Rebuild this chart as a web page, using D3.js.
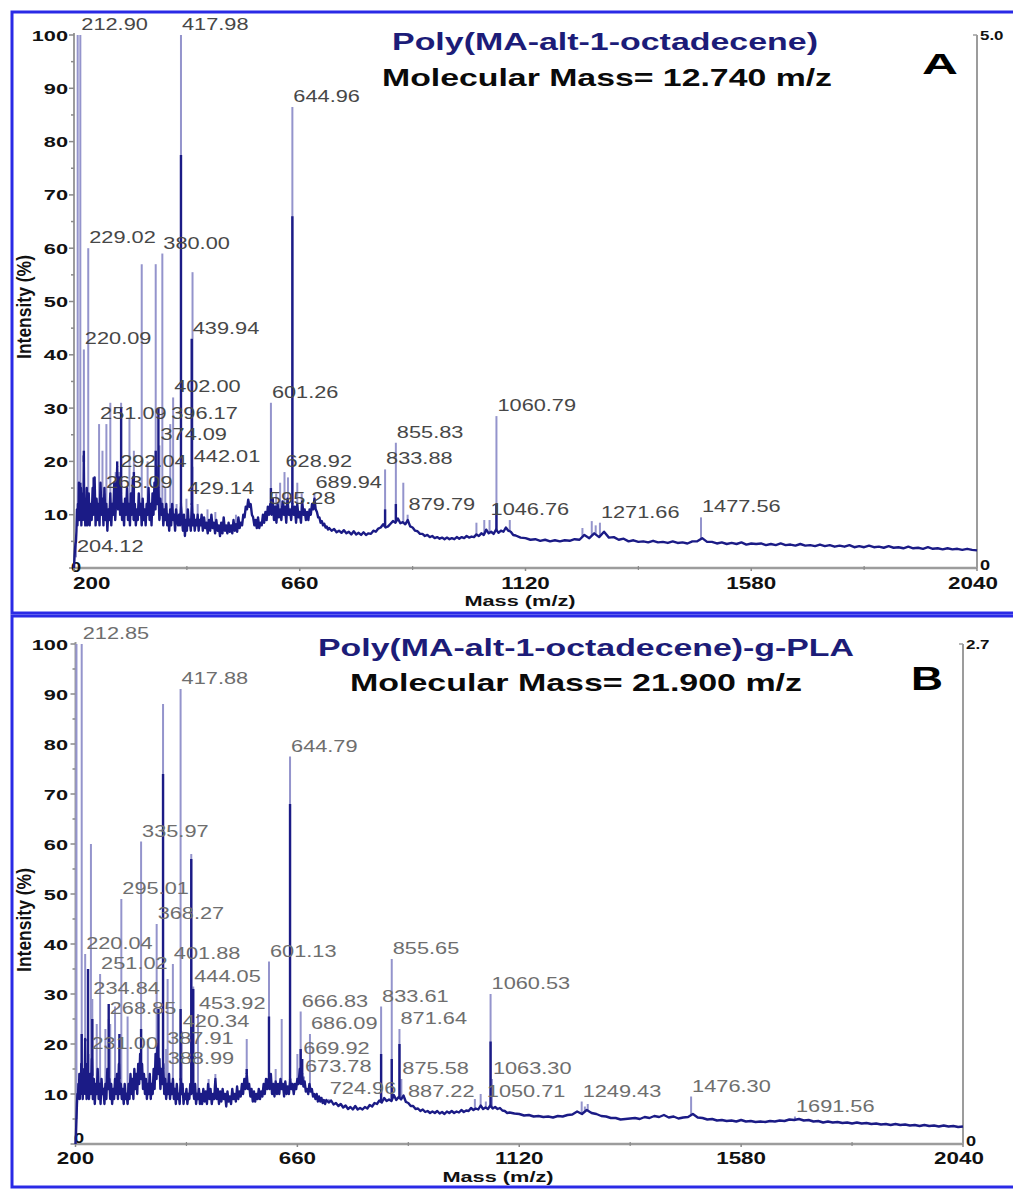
<!DOCTYPE html>
<html><head><meta charset="utf-8">
<script src="https://cdn.jsdelivr.net/npm/d3@7"></script>
<style>
html,body{margin:0;padding:0;background:#fff;}
svg{display:block;font-family:"Liberation Sans",Arial,Helvetica,sans-serif;}
</style></head><body>
<svg id="chart" width="1013" height="1189"></svg>
<script>
// ---------- data ----------
const panelLetters = ["A", "B"];
const titles = ["Poly(MA-alt-1-octadecene)", "Poly(MA-alt-1-octadecene)-g-PLA"];
const massTexts = ["Molecular Mass= 12.740 m/z", "Molecular Mass= 21.900 m/z"];
const rightMaxLabels = ["5.0", "2.7"];
const xTicks = [200, 660, 1120, 1580, 2040];
const xMinorTicks = [430, 890, 1350, 1810];
const yTicks = [0, 10, 20, 30, 40, 50, 60, 70, 80, 90, 100];
const xTitle = "Mass (m/z)";
const yTitle = "Intensity (%)";

// labelled peaks: [m/z, intensity %]
const labelledA = [
  [204.12, 2], [212.90, 100], [220.09, 41], [229.02, 60], [251.09, 27],
  [263.09, 14], [292.04, 18], [374.09, 23], [380.00, 59], [396.17, 27],
  [402.00, 32], [417.98, 100], [429.14, 13], [439.94, 43], [442.01, 19],
  [595.28, 11], [601.26, 31], [628.92, 18], [644.96, 86.5], [689.94, 14],
  [833.88, 18.5], [855.83, 23.5], [879.79, 10], [1046.76, 9], [1060.79, 28.5],
  [1271.66, 8.5], [1477.56, 9.5]
];
// unlabelled peak tips
const lightA = [
  [207.5, 100], [258, 22], [266, 27], [274, 31], [285, 18], [296, 31], [313, 28],
  [322, 22], [338, 57], [350, 20], [366.5, 57], [386, 15], [409, 12],
  [441.5, 55.5], [452, 12], [472, 11], [488, 10.5], [530, 10], [556, 12.5],
  [612, 14], [620, 16], [636, 17], [655, 16], [664, 14], [871, 16],
  [1020, 8.5], [1036, 9], [1088, 9], [1236, 7.5], [1255, 8.8], [1263, 8]
];
// dense cores of the strongest lines
const darkA = [
  [212.90, 16], [220.09, 22], [240, 17], [262, 15], [288, 20], [296, 30],
  [322, 18], [366.5, 22], [372, 30], [417.98, 77.5], [439.94, 43],
  [601.26, 15], [644.96, 66], [833.88, 11], [855.83, 12], [1060.79, 12]
];
const traceA = [
  [200,0],[201,2],[202,3.5],[203,4.5],[204,5],[205,7],[206,11],[207,8],[208,12],[209,9],
  [210,16],[211,9],[212,13],[213,10],[214,15],[215,8],[216,12],[217,9],[218,14],[219,10],
  [220,21],[221,9],[222,12],[223,8],[224,13],[225,10],[226,15],[227,8],[228,11],
  [230,14],[232,8],[234,12],[236,9],[238,15],[240,10],[242,17],[244,8],[246,13],[248,9],
  [250,12],[252,8],[254,16],[256,10],[258,13],[260,8],[262,15],[264,9],[266,12],[268,7],
  [270,11],[272,9],[274,14],[276,8],[278,12],[280,10],[282,16],[284,9],[286,13],[288,19],
  [290,11],[292,17],[294,10],[296,14],[298,9],[300,12],[302,8],[304,13],[306,10],[308,15],
  [310,9],[312,12],[314,8],[316,14],[318,10],[320,17],[322,9],[324,12],[326,8],[328,11],
  [330,9],[332,14],[334,10],[336,12],[338,8],[340,13],[342,9],[344,11],[346,8],[348,12],
  [350,10],[352,15],[354,9],[356,12],[358,8],[360,14],[362,10],[364,16],[366,11],[368,19],
  [370,12],[372,15],[374,9],[376,13],[378,10],[380,12],[382,8],[384,11],[386,9],[388,12],
  [390,8],[392,10],[394,7],[396,11],[398,8],[400,12],[402,9],[404,10],[406,7],[408,11],
  [410,9],[412,8],[414,10],[416,8],[418,12],[420,9],[422,7],[424,10],[426,6],[428,9],
  [430,7],[432,11],[434,8],[436,9],[438,7],[440,12],[442,8],[444,10],[446,7],[448,9],
  [450,8],[452,10],[454,7],[456,9],[458,8],[460,10],
  [462.5,7],[465,9.5],[467.5,7.5],[470,8.5],[472.5,6.5],[475,9],[477.5,7],[480,10],[482.5,7.5],[485,8.5],
  [487.5,6.5],[490,9],[492.5,7],[495,8],[497.5,6],[500,8.5],[502.5,6.5],[505,9.5],[507.5,7],[510,8],
  [512.5,6.5],[515,8.5],[517.5,6.8],[520,8],[522.5,6.5],[525,9],[527.5,7],[530,8.2],[532.5,6.8],[535,9.5],
  [537.5,7.5],[540,8.5],[542.5,8],[545,10],[547.5,9.5],[550,11.5],[552.5,11],[555,12.8],[557.5,11.5],[560,12],
  [562.5,10],[565,9.5],[567.5,8],[570,9],[572.5,7.5],[575,9.5],[577.5,7.5],[580,8.5],[582.5,8],[585,10],
  [587.5,8.5],[590,10.5],[592.5,9],[595,11.5],[597.5,10],[600,12],[602.5,10],[605,13],[607.5,9],[610,11.5],
  [612.5,8.5],[615,12],[617.5,9.5],[620,11],[622.5,9],[625,12.5],[627.5,10],[630,11.5],[632.5,8.5],[635,13],
  [637.5,10],[640,11],[642.5,9],[645,12],[647.5,10],[650,11.5],[652.5,8.5],[655,12],[657.5,9.5],[660,10.5],
  [662.5,8.5],[665,12.5],[667.5,10],[670,11],[672.5,9],[675,10.5],[677.5,9],[680,11],[682.5,10],[685,12],
  [687.5,11],[690,13],[692.5,11],[695,10.5],[697.5,9.5],[700,9.5],[702.5,8.5],[705,8.8],[707.5,8],[710,8.3],
  [712.5,7.6],[715,7.8],[717.5,7.2],[720,7.5],
  [725,7],[730,7.3],[735,6.7],[740,7],[745,6.6],[750,7.1],[755,6.5],[760,6.8],[765,6.3],[770,6.9],
  [775,6.3],[780,6.6],[785,6.2],[790,6.7],[795,6.2],[800,6.5],[805,6.4],[810,7],[815,6.8],[820,7.4],
  [825,7.6],[830,8.2],[835,7.6],[840,7.8],[845,8.3],[850,8.8],[855,8.5],[860,9.3],[865,8.4],[870,8.6],
  [875,8.2],[880,9],[885,7.8],[890,7.6],[895,7],[900,6.9],[905,6.4],[910,6.4],[915,6],[920,6.2],
  [925,5.8],[930,6],[935,5.6],[940,5.8],[945,5.5],[950,5.7],[955,5.4],[960,5.7],[965,5.4],[970,5.6],
  [975,5.4],[980,5.8],[985,5.5],[990,5.8],[995,5.6],[1000,6],[1005,5.7],[1010,5.9],[1015,5.8],[1020,6.3],
  [1025,6],[1030,6.5],[1035,6.2],[1040,7.2],[1045,6.5],[1050,6.8],[1055,6.4],[1060,7.2],[1065,6.6],[1070,7],
  [1075,6.8],[1080,7.6],[1085,7],[1090,6.8],[1095,6.2],[1100,6.1],
  [1110,5.7],[1120,5.6],[1130,5.3],[1140,5.4],[1150,5.1],[1160,5.3],[1170,5.0],[1180,5.2],
  [1190,5.0],[1200,5.2],[1210,5.1],[1220,5.4],[1230,5.3],[1240,6.2],[1250,5.6],[1260,6.5],
  [1270,5.8],[1280,6.8],[1290,5.7],[1300,5.8],[1310,5.3],[1320,5.5],[1330,5.0],[1340,5.2],
  [1350,4.9],[1360,5.0],[1370,4.8],[1380,5.1],[1390,4.8],[1400,4.9],[1410,4.7],[1420,5.0],
  [1430,4.7],[1440,4.8],[1450,4.6],[1460,5.0],[1470,5.0],[1480,5.6],[1490,4.9],[1500,4.9],
  [1510,4.6],[1520,4.8],[1530,4.5],[1540,4.7],[1550,4.5],[1560,4.8],[1570,4.4],[1580,4.6],
  [1590,4.5],[1600,4.6],[1610,4.3],[1620,4.5],[1630,4.3],[1640,4.6],[1650,4.3],[1660,4.4],
  [1670,4.2],[1680,4.5],[1690,4.2],[1700,4.3],[1710,4.1],[1720,4.4],[1730,4.1],[1740,4.3],
  [1750,4.0],[1760,4.2],[1770,4.0],[1780,4.3],[1790,3.9],[1800,4.1],[1810,3.9],[1820,4.2],
  [1830,3.9],[1840,4.0],[1850,3.8],[1860,4.1],[1870,3.8],[1880,3.9],[1890,3.7],[1900,4.0],
  [1910,3.7],[1920,3.8],[1930,3.6],[1940,3.9],[1950,3.6],[1960,3.7],[1970,3.5],[1980,3.7],
  [1990,3.5],[2000,3.6],[2010,3.4],[2020,3.6],[2030,3.4],[2040,3.3]
];

const labelledB = [
  [212.85, 100], [220.04, 38], [231.00, 18], [234.84, 29], [251.02, 34],
  [268.85, 25], [295.01, 49], [335.97, 60.5], [368.27, 44], [387.91, 19],
  [388.99, 15], [401.88, 36], [417.88, 91], [420.34, 22.5], [444.05, 31.5],
  [453.92, 26], [601.13, 36.5], [644.79, 77.5], [666.83, 26.5], [669.92, 17],
  [673.78, 13.5], [686.09, 22], [724.96, 9], [833.61, 27.5], [855.65, 37],
  [871.64, 23], [875.58, 13], [887.22, 8.5], [1050.71, 8.5], [1060.53, 30],
  [1063.30, 13], [1249.43, 8.5], [1476.30, 9.5], [1691.56, 5.5]
];
const lightB = [
  [202, 100], [232, 60], [244, 24], [262, 23], [272, 24], [282, 27.5], [308, 25.5],
  [350, 21], [381.5, 88], [391, 33], [440, 58], [476, 13], [490, 14], [555, 21],
  [627.5, 25], [615, 15], [660, 18], [1040, 10], [1028, 9], [1262, 8], [1256, 7.5]
];
const darkB = [
  [212.85, 22], [220.04, 21], [226, 35], [234.84, 25], [268.85, 28], [291, 22],
  [335.97, 23], [372, 27], [381.5, 74], [417.88, 27], [440, 57], [444.05, 31],
  [555, 15], [601.13, 25.5], [644.79, 68], [666.83, 19], [669.92, 17],
  [833.61, 18], [855.65, 17], [871.64, 20], [1060.53, 20.5]
];
const traceB = [
  [200,0],[201,2],[202,5],[203,8],[204,10],[205,9],[206,12],[207,10],[208,14],[209,9],
  [210,13],[211,10],[212,16],[213,11],[214,14],[215,9],[216,13],[217,10],[218,15],[219,11],
  [220,21],[221,10],[222,14],[223,9],[224,12],[225,16],[226,11],[227,13],[228,9],
  [230,14],[232,10],[234,17],[236,9],[238,13],[240,8],[242,12],[244,10],[246,15],[248,9],
  [250,12],[252,8],[254,13],[256,10],[258,11],[260,8],[262,12],[264,9],[266,15],[268,11],
  [270,13],[272,9],[274,12],[276,8],[278,11],[280,9],[282,13],[284,10],[286,14],[288,9],
  [290,16],[292,10],[294,12],[296,9],[298,11],[300,8],[302,12],[304,9],[306,10],[308,8],
  [310,12],[312,9],[314,14],[316,10],[318,13],[320,9],[322,15],[324,11],[326,14],[328,10],
  [330,16],[332,12],[334,18],[336,13],[338,16],[340,11],[342,14],[344,10],[346,13],[348,9],
  [350,12],[352,10],[354,14],[356,9],[358,12],[360,10],[362,15],[364,11],[366,18],[368,13],
  [370,20],[372,14],[374,17],[376,11],[378,15],[380,12],[382,16],[384,10],[386,13],[388,9],
  [390,12],[392,10],[394,14],[396,9],[398,12],[400,10],[402,13],[404,9],[406,11],[408,8],
  [410,12],[412,9],[414,10],[416,8],[418,13],[420,10],[422,12],[424,8],[426,10],[428,9],
  [430,11],[432,8],[434,10],[436,9],[438,12],[440,10],[442,14],[444,11],[446,9],[448,12],
  [450,8],[452,10],[454,9],[456,11],[458,8],[460,10],
  [462.5,8],[465,11],[467.5,8.5],[470,10.5],[472.5,8],[475,12],[477.5,9],[480,11],[482.5,8],[485,10],
  [487.5,9],[490,13],[492.5,9],[495,11],[497.5,8],[500,10.5],[502.5,8.5],[505,11],[507.5,9],[510,10],
  [512.5,7.5],[515,10.5],[517.5,8.5],[520,9.5],[522.5,8],[525,11],[527.5,9],[530,10],[532.5,8.5],[535,11.5],
  [537.5,9],[540,10.5],[542.5,9.5],[545,12],[547.5,10],[550,13],[552.5,11],[555,14],[557.5,11],[560,12],
  [562.5,9.5],[565,11],[567.5,8.5],[570,10.5],[572.5,8.5],[575,10],[577.5,9],[580,11],[582.5,9],[585,10.5],
  [587.5,9.5],[590,12],[592.5,10],[595,13],[597.5,11],[600,13],[602.5,11],[605,14],[607.5,10],[610,12],
  [612.5,9.5],[615,12.5],[617.5,10],[620,12],[622.5,10],[625,13],[627.5,11],[630,12],[632.5,9.5],[635,12.5],
  [637.5,10],[640,11.5],[642.5,10],[645,13],[647.5,11],[650,12],[652.5,10],[655,12],[657.5,11],[660,13],
  [662.5,12],[665,15],[667.5,12],[670,14],[672.5,11.5],[675,12.5],[677.5,10.5],[680,11],[682.5,10],[685,12],
  [687.5,10.5],[690,11],[692.5,9.5],[695,10],[697.5,9],[700,10],[702.5,8.5],[705,9.5],[707.5,8.5],[710,9.2],
  [712.5,8.2],[715,8.8],[717.5,8],[720,8.8],
  [725,8.3],[730,8.7],[735,7.9],[740,8.2],[745,7.6],[750,8],[755,7.3],[760,7.7],[765,7],[770,7.4],
  [775,6.9],[780,7.6],[785,6.9],[790,7.2],[795,6.9],[800,7.4],[805,7.1],[810,7.8],[815,7.5],[820,8.2],
  [825,8],[830,8.7],[835,8.3],[840,9.2],[845,8.6],[850,8.9],[855,8.6],[860,9.8],[865,8.8],[870,9.4],
  [875,8.9],[880,9.7],[885,8.4],[890,8.2],[895,7.6],[900,7.6],[905,7],[910,7.1],[915,6.6],[920,6.9],
  [925,6.4],[930,6.6],[935,6.2],[940,6.5],[945,6.2],[950,6.6],[955,6.1],[960,6.4],[965,6],[970,6.5],
  [975,6.2],[980,6.6],[985,6.2],[990,6.5],[995,6.3],[1000,6.8],[1005,6.4],[1010,6.7],[1015,6.6],[1020,7.2],
  [1025,6.8],[1030,7.1],[1035,6.9],[1040,7.7],[1045,7],[1050,7.3],[1055,7],[1060,7.7],[1065,7.1],[1070,7.4],
  [1075,7],[1080,7.2],[1085,6.7],[1090,6.6],[1095,6.2],[1100,6.3],
  [1110,6.1],[1120,6.0],[1130,5.7],[1140,5.8],[1150,5.5],[1160,5.6],[1170,5.4],[1180,5.5],
  [1190,5.3],[1200,5.6],[1210,5.5],[1220,5.8],[1230,5.9],[1240,6.5],[1250,6.0],[1260,6.8],
  [1270,6.2],[1280,6.0],[1290,5.6],[1300,5.5],[1310,5.2],[1320,5.2],[1330,4.9],[1340,5.0],
  [1350,5.1],[1360,5.2],[1370,5.0],[1380,5.4],[1390,5.2],[1400,5.6],[1410,5.4],[1420,5.8],
  [1430,5.3],[1440,5.5],[1450,5.1],[1460,5.3],[1470,5.4],[1480,6.0],[1490,5.3],[1500,5.2],
  [1510,4.9],[1520,5.0],[1530,4.7],[1540,4.8],[1550,4.6],[1560,4.7],[1570,4.5],[1580,4.8],
  [1590,4.5],[1600,4.6],[1610,4.4],[1620,4.5],[1630,4.4],[1640,4.6],[1650,4.5],[1660,4.7],
  [1670,4.6],[1680,4.9],[1690,4.8],[1700,5.0],[1710,4.7],[1720,4.8],[1730,4.5],[1740,4.6],
  [1750,4.3],[1760,4.5],[1770,4.3],[1780,4.4],[1790,4.2],[1800,4.3],[1810,4.1],[1820,4.3],
  [1830,4.1],[1840,4.2],[1850,4.0],[1860,4.1],[1870,3.9],[1880,4.0],[1890,3.8],[1900,4.0],
  [1910,3.8],[1920,3.9],[1930,3.7],[1940,3.8],[1950,3.6],[1960,3.8],[1970,3.6],[1980,3.7],
  [1990,3.5],[2000,3.7],[2010,3.5],[2020,3.6],[2030,3.4],[2040,3.5]
];

// ---------- layout ----------
const panels = [
  { i: 0, trace: traceA, light: lightA, dark: darkA, labels: labelledA,
    px: [74, 977], py: [568, 35], frameTop: 12, frameBottom: 613,
    title: { x: 605, y: 50, w: 426, size: 24 }, mass: { x: 607, y: 86, w: 450, size: 24 },
    letter: { x: 940, y: 74, w: 36, size: 29 },
    xLab: { y: 589, first: "start" }, xTitleY: 606, xTitleX: 520, yTitleY: 307,
    labelFill: "#474747", zeroLabel: { x: 76, y: 572 } },
  { i: 1, trace: traceB, light: lightB, dark: darkB, labels: labelledB,
    px: [75.5, 963], py: [1144, 644], frameTop: 616, frameBottom: 1187,
    title: { x: 586, y: 656, w: 536, size: 24 }, mass: { x: 576, y: 691, w: 452, size: 24 },
    letter: { x: 927, y: 690, w: 32, size: 33 },
    xLab: { y: 1164, first: "middle" }, xTitleY: 1182, xTitleX: 498, yTitleY: 920,
    labelFill: "#6e6e6e", zeroLabel: { x: 79, y: 1143 } }
];

const svg = d3.select("#chart");
svg.append("rect").attr("width", 1013).attr("height", 1189).attr("fill", "#fff");

const NAVY = "#1b1b86", LIGHT = "#9494cc", AXIS = "#9c9c9c";

function sText(g, x, y, str, o) {
  const t = g.append("text")
    .attr("transform", `translate(${x},${y}) scale(${o.sx || 1},1)`)
    .attr("text-anchor", o.anchor || "start")
    .attr("font-size", o.size)
    .attr("font-weight", o.weight || "normal")
    .attr("fill", o.fill || "#000")
    .text(str);
  if (o.w) t.attr("textLength", o.w / (o.sx || 1)).attr("lengthAdjust", "spacingAndGlyphs");
  return t;
}

panels.forEach(p => {
  const g = svg.append("g");
  const x = d3.scaleLinear().domain([200, 2040]).range(p.px);
  const y = d3.scaleLinear().domain([0, 100]).range(p.py);
  const traceAt = mz => {
    const i = d3.bisector(d => d[0]).left(p.trace, mz);
    const a = p.trace[Math.max(0, i - 1)], b = p.trace[Math.min(p.trace.length - 1, i)];
    if (a[0] === b[0]) return a[1];
    return a[1] + (b[1] - a[1]) * (mz - a[0]) / (b[0] - a[0]);
  };

  // frame
  g.append("rect").attr("x", 12).attr("y", p.frameTop)
    .attr("width", 1040).attr("height", p.frameBottom - p.frameTop)
    .attr("fill", "none").attr("stroke", "#2a2ae6").attr("stroke-width", 3);

  // axes lines
  g.append("line").attr("x1", p.px[0]).attr("x2", p.px[1]).attr("y1", p.py[0]).attr("y2", p.py[0])
    .attr("stroke", AXIS).attr("stroke-width", 2.5);
  g.append("line").attr("x1", p.px[0]).attr("x2", p.px[0]).attr("y1", p.py[0]).attr("y2", p.py[1] - 2)
    .attr("stroke", AXIS).attr("stroke-width", 2);
  g.append("line").attr("x1", p.px[1]).attr("x2", p.px[1]).attr("y1", p.py[0]).attr("y2", p.py[1])
    .attr("stroke", AXIS).attr("stroke-width", 2);
  g.append("line").attr("x1", p.px[1] - 4).attr("x2", p.px[1]).attr("y1", p.py[1]).attr("y2", p.py[1])
    .attr("stroke", AXIS).attr("stroke-width", 1.5);

  // y ticks (major every 10, minor every 5)
  d3.range(0, 101, 5).forEach(v => {
    const major = v % 10 === 0;
    g.append("line").attr("x1", p.px[0] - (major ? 5 : 3)).attr("x2", p.px[0])
      .attr("y1", y(v)).attr("y2", y(v)).attr("stroke", "#8a8a8a").attr("stroke-width", 1.5);
  });
  yTicks.filter(v => v > 0).forEach(v => {
    sText(g, 68, y(v) + 5.5, String(v), { size: 15, weight: "bold", sx: 1.45, anchor: "end", fill: "#111" });
  });
  sText(g, p.zeroLabel.x, p.zeroLabel.y, "0", { size: 14, weight: "bold", sx: 1.3, anchor: "middle", fill: "#111" });

  // x ticks
  xTicks.forEach(v => {
    g.append("line").attr("x1", x(v)).attr("x2", x(v)).attr("y1", p.py[0]).attr("y2", p.py[0] + 3)
      .attr("stroke", "#8a8a8a").attr("stroke-width", 1.5);
  });
  xMinorTicks.forEach(v => {
    g.append("line").attr("x1", x(v)).attr("x2", x(v)).attr("y1", p.py[0] - 2).attr("y2", p.py[0] + 2)
      .attr("stroke", "#8a8a8a").attr("stroke-width", 1.2);
  });
  xTicks.forEach((v, k) => {
    let anchor = "middle", xx = x(v);
    if (k === 0 && p.xLab.first === "start") { anchor = "start"; xx = x(v) - 1; }
    if (k === xTicks.length - 1) xx = x(v) - 4;
    sText(g, xx, p.xLab.y, String(v), { size: 16, weight: "bold", sx: 1.4, anchor, fill: "#111" });
  });

  // right axis labels
  sText(g, p.px[1] + 3, p.py[1] + 5, rightMaxLabels[p.i], { size: 13, weight: "bold", sx: 1.3, fill: "#111" });
  sText(g, p.px[1] + 3, p.py[0] + 2, "0", { size: 14, weight: "bold", sx: 1.3, fill: "#111" });

  // axis titles
  sText(g, p.xTitleX, p.xTitleY, xTitle, { size: 15, weight: "bold", sx: 1.45, anchor: "middle", fill: "#111" });
  g.append("text")
    .attr("transform", `translate(31,${p.yTitleY}) scale(1.2,1) rotate(-90)`)
    .attr("text-anchor", "middle").attr("font-size", 17.5).attr("font-weight", "bold")
    .attr("fill", "#111").text(yTitle);

  // headings
  sText(g, p.title.x, p.title.y, titles[p.i], { size: p.title.size, weight: "bold", anchor: "middle", fill: "#1c1c78", w: p.title.w });
  sText(g, p.mass.x, p.mass.y, massTexts[p.i], { size: p.mass.size, weight: "bold", anchor: "middle", fill: "#0a0a0a", w: p.mass.w });
  sText(g, p.letter.x, p.letter.y, panelLetters[p.i], { size: p.letter.size, weight: "bold", anchor: "middle", fill: "#000", w: p.letter.w });

  // spectrum: faint peak tips, dense cores, then the trace
  const tips = p.light.concat(p.labels);
  g.append("g").selectAll("line").data(tips).join("line")
    .attr("x1", d => x(d[0])).attr("x2", d => x(d[0]))
    .attr("y1", d => y(traceAt(d[0]))).attr("y2", d => y(d[1]))
    .attr("stroke", LIGHT).attr("stroke-width", 2);
  g.append("g").selectAll("line").data(p.dark).join("line")
    .attr("x1", d => x(d[0])).attr("x2", d => x(d[0]))
    .attr("y1", d => y(traceAt(d[0]))).attr("y2", d => y(d[1]))
    .attr("stroke", NAVY).attr("stroke-width", 2.4);
  g.append("path").datum(p.trace)
    .attr("d", d3.line().x(d => x(d[0])).y(d => y(d[1])))
    .attr("fill", "none").attr("stroke", NAVY).attr("stroke-width", 2.4)
    .attr("stroke-linejoin", "round");

  // peak labels
  const lg = g.append("g");
  p.labels.forEach(d => {
    sText(lg, x(d[0]) + 1, y(d[1]) - 5, d[0].toFixed(2), { size: 17, sx: 1.28, fill: p.labelFill });
  });
});
</script></body></html>
